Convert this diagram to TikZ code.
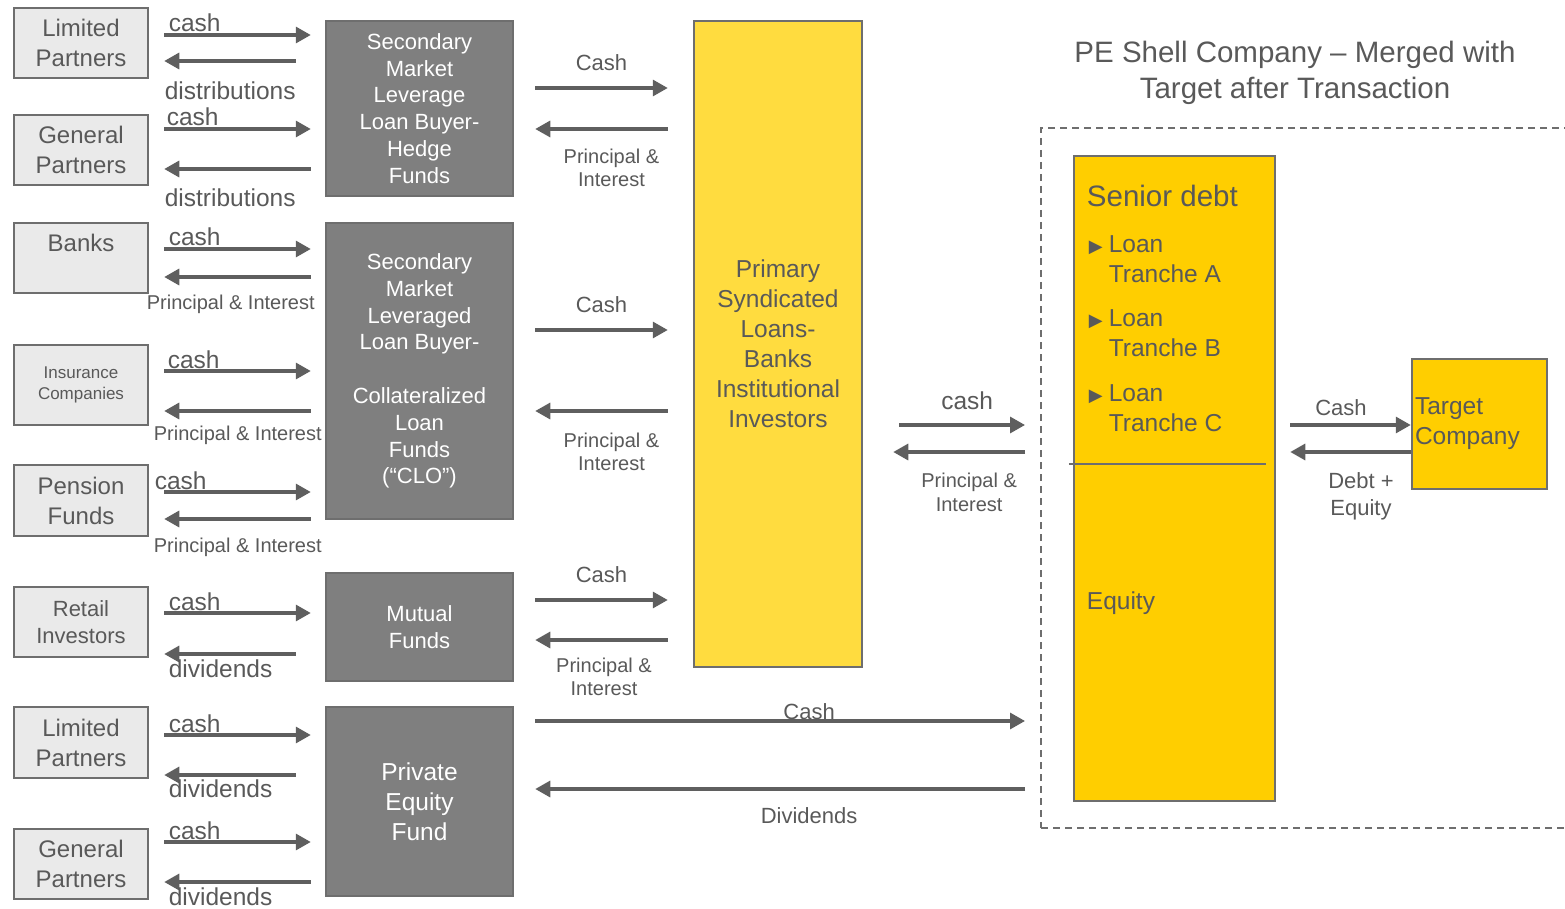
\documentclass[tikz,border=0pt]{standalone}
\usepackage{fontspec}
\setmainfont{Liberation Sans}
\newfontfamily\symbfont{DejaVu Sans}
\usepackage{xcolor}
\usetikzlibrary{arrows.meta, calc}

\definecolor{textgray}{HTML}{595959}
\definecolor{linegray}{HTML}{5F5F5F}
\definecolor{boxgray}{HTML}{6E6E6E}
\definecolor{lightfill}{HTML}{EAEAEA}
\definecolor{darkfill}{HTML}{7F7F7F}
\definecolor{paleyellow}{HTML}{FFDC3F}
\definecolor{gold}{HTML}{FFCE00}

\newcommand{\fsz}[2]{\fontsize{#1}{#2}\selectfont}

\begin{document}
\begin{tikzpicture}[
    x=1pt, y=-1pt,
    lbox/.style={draw=boxgray, line width=2.5pt, fill=lightfill, text=textgray, align=center, minimum width=134pt, minimum height=70pt, inner sep=0pt, font=\fsz{24}{30}},
    dbox/.style={draw=boxgray, line width=2.5pt, fill=darkfill, text=white, align=center, minimum width=187pt, inner sep=0pt, font=\fsz{22}{26.8}},
    ybox/.style={draw=boxgray, line width=2.5pt, text=textgray, inner sep=0pt},
    arrow/.style={draw=linegray, line width=3.2pt, -{Triangle[length=15pt,width=16pt]}},
    lbl/.style={text=textgray, inner sep=0pt, font=\fsz{24.5}{30}},
    mlbl/.style={text=textgray, inner sep=0pt, font=\fsz{22}{27}, align=center},
    slbl/.style={text=textgray, inner sep=0pt, font=\fsz{20}{23}, align=center}
]
\useasboundingbox (0,0) rectangle (1565,909);

% Investors
\node (lp1) [lbox] at (81,43) {Limited\\Partners};
\node (gp1) [lbox] at (81,150) {General\\Partners};
\node (banks) [lbox] at (81,258) {Banks\\\mbox{}};
\node (insur) [lbox, minimum height=80pt, font=\fsz{17}{21}] at (81,385) {Insurance\\Companies};
\node (pension) [lbox, minimum height=71pt] at (81,500.5) {Pension\\Funds};
\node (retail) [lbox, font=\fsz{22}{27}] at (81,622) {Retail\\Investors};
\node (lp2) [lbox, minimum height=71pt] at (81,742.5) {Limited\\Partners};
\node (gp2) [lbox] at (81,864) {General\\Partners};

% Funds
\node (hedge) [dbox, minimum height=175pt] at (419.5,108.5) {Secondary\\Market\\Leverage\\Loan Buyer-\\Hedge\\Funds};
\node (clo) [dbox, minimum height=296pt] at (419.5,371) {Secondary\\Market\\Leveraged\\Loan Buyer-\\[26.8pt]Collateralized\\Loan\\Funds\\(“CLO”)};
\node (mutual) [dbox, minimum height=108pt] at (419.5,627) {Mutual\\Funds};
\node (pefund) [dbox, minimum height=189pt, font=\fsz{24.5}{30}] at (419.5,801.5) {Private\\Equity\\Fund};

% Primary market
\node (primary) [ybox, fill=paleyellow, minimum width=168pt, minimum height=646pt, align=center, font=\fsz{24.5}{30}] at (778,344) {Primary\\Syndicated\\Loans-\\Banks\\Institutional\\Investors};

% PE shell company
\node (title) [text=textgray, align=center, font=\fsz{29.5}{36}] at (1295,73) {PE Shell Company – Merged with\\Target after Transaction};
\node (shellco) [draw=boxgray, line width=2pt, dash pattern=on 7pt off 5pt, minimum width=539pt, minimum height=700pt] at (1310.5,478) {};
\node (shell) [ybox, fill=gold, minimum width=201pt, minimum height=645pt] at (1174.5,478.5) {};
\node (target) [ybox, fill=gold, minimum width=135pt, minimum height=130pt, text width=129pt, align=left, font=\fsz{24.5}{30}] at (1479.5,424) {Target\\Company};

\node (senior) [lbl, font=\fsz{29.5}{36}, anchor=base west] at ($(shell.north west)+(14,52)$) {Senior debt};
\node (tranches) [lbl, anchor=base west] at ($(shell.north west)+(16,98)$) {\begin{tabular}[t]{@{}l@{\hspace{6pt}}l@{}}
{\symbfont\fsz{18}{18}▶} & Loan\\ & Tranche A\\[14pt]
{\symbfont\fsz{18}{18}▶} & Loan\\ & Tranche B\\[15pt]
{\symbfont\fsz{18}{18}▶} & Loan\\ & Tranche C
\end{tabular}};
\node (equity) [lbl, anchor=base west] at ($(shell.north west)+(14,455)$) {Equity};
\draw[draw=boxgray, line width=2pt] ($(shell.north west)+(-4,309)$) -- ($(shell.north east)+(-10,309)$);

% Investors <-> funds
\draw[arrow] ($(lp1.east)+(15,-8)$) -- ($(lp1.east -| hedge.west)+(-14,-8)$) node[lbl, at start, anchor=base west, xshift=3pt, yshift=3pt] {cash};
\draw[arrow] ($(lp1.east -| hedge.west)+(-29,18)$) -- ($(lp1.east)+(15,18)$) node[lbl, anchor=base west, xshift=-1pt, yshift=-39pt] {distributions};
\draw[arrow] ($(gp1.east)+(15,-21)$) -- ($(gp1.east -| hedge.west)+(-14,-21)$) node[lbl, at start, anchor=base west, xshift=1pt, yshift=3pt] {cash};
\draw[arrow] ($(gp1.east -| hedge.west)+(-14,19)$) -- ($(gp1.east)+(15,19)$) node[lbl, anchor=base west, xshift=-1pt, yshift=-38pt] {distributions};

\draw[arrow] ($(banks.east)+(15,-9)$) -- ($(banks.east -| clo.west)+(-14,-9)$) node[lbl, at start, anchor=base west, xshift=3pt, yshift=3pt] {cash};
\draw[arrow] ($(banks.east -| clo.west)+(-14,19)$) -- ($(banks.east)+(15,19)$) node[slbl, anchor=base west, xshift=-19pt, yshift=-32pt] {Principal \& Interest};
\draw[arrow] ($(insur.east)+(15,-14)$) -- ($(insur.east -| clo.west)+(-14,-14)$) node[lbl, at start, anchor=base west, xshift=2pt, yshift=3pt] {cash};
\draw[arrow] ($(insur.east -| clo.west)+(-14,26)$) -- ($(insur.east)+(15,26)$) node[slbl, anchor=base west, xshift=-12pt, yshift=-29pt] {Principal \& Interest};
\draw[arrow] ($(pension.east)+(15,-8.5)$) -- ($(pension.east -| clo.west)+(-14,-8.5)$) node[lbl, at start, anchor=base west, xshift=-11pt, yshift=3pt] {cash};
\draw[arrow] ($(pension.east -| clo.west)+(-14,18.5)$) -- ($(pension.east)+(15,18.5)$) node[slbl, anchor=base west, xshift=-12pt, yshift=-33pt] {Principal \& Interest};

\draw[arrow] ($(retail.east)+(15,-9)$) -- ($(retail.east -| mutual.west)+(-14,-9)$) node[lbl, at start, anchor=base west, xshift=3pt, yshift=3pt] {cash};
\draw[arrow] ($(retail.east -| mutual.west)+(-29,32)$) -- ($(retail.east)+(15,32)$) node[lbl, anchor=base west, xshift=3pt, yshift=-23pt] {dividends};

\draw[arrow] ($(lp2.east)+(15,-7.5)$) -- ($(lp2.east -| pefund.west)+(-14,-7.5)$) node[lbl, at start, anchor=base west, xshift=3pt, yshift=3pt] {cash};
\draw[arrow] ($(lp2.east -| pefund.west)+(-29,32.5)$) -- ($(lp2.east)+(15,32.5)$) node[lbl, anchor=base west, xshift=3pt, yshift=-22pt] {dividends};
\draw[arrow] ($(gp2.east)+(15,-22)$) -- ($(gp2.east -| pefund.west)+(-14,-22)$) node[lbl, at start, anchor=base west, xshift=3pt, yshift=3pt] {cash};
\draw[arrow] ($(gp2.east -| pefund.west)+(-14,18)$) -- ($(gp2.east)+(15,18)$) node[lbl, anchor=base west, xshift=3pt, yshift=-23pt] {dividends};

% Funds <-> primary market
\draw[arrow] ($(hedge.east)+(21,-20.5)$) -- ($(hedge.east -| primary.west)+(-25,-20.5)$) node[mlbl, midway, anchor=base, yshift=17pt] {Cash};
\draw[arrow] ($(hedge.east -| primary.west)+(-25,20.5)$) -- ($(hedge.east)+(21,20.5)$) node[slbl, midway, anchor=north, xshift=10pt, yshift=-18pt] {Principal \&\\Interest};
\draw[arrow] ($(clo.east)+(21,-41)$) -- ($(clo.east -| primary.west)+(-25,-41)$) node[mlbl, midway, anchor=base, yshift=18pt] {Cash};
\draw[arrow] ($(clo.east -| primary.west)+(-25,40)$) -- ($(clo.east)+(21,40)$) node[slbl, midway, anchor=north, xshift=10pt, yshift=-20pt] {Principal \&\\Interest};
\draw[arrow] ($(mutual.east)+(21,-27)$) -- ($(mutual.east -| primary.west)+(-25,-27)$) node[mlbl, midway, anchor=base, yshift=18pt] {Cash};
\draw[arrow] ($(mutual.east -| primary.west)+(-25,13)$) -- ($(mutual.east)+(21,13)$) node[slbl, midway, anchor=north, xshift=2.5pt, yshift=-16pt] {Principal \&\\Interest};

% PE fund <-> shell company
\draw[arrow] ($(pefund.east)+(21,-80.5)$) -- ($(pefund.east -| shellco.west)+(-15,-80.5)$) node[mlbl, midway, anchor=base, xshift=29pt, yshift=2pt] {Cash};
\draw[arrow] ($(pefund.east -| shellco.west)+(-15,-12.5)$) -- ($(pefund.east)+(21,-12.5)$) node[mlbl, midway, anchor=base, xshift=29pt, yshift=-34pt] {Dividends};

% Primary market <-> shell company
\draw[arrow] ($(primary.east)+(36,81)$) -- ($(primary.east -| shellco.west)+(-15,81)$) node[lbl, midway, anchor=base, xshift=5pt, yshift=16pt] {cash};
\draw[arrow] ($(primary.east -| shellco.west)+(-15,108)$) -- ($(primary.east)+(30,108)$) node[slbl, font=\fsz{20}{24}, midway, anchor=north, xshift=10pt, yshift=-19pt] {Principal \&\\Interest};

% Shell <-> target
\draw[arrow] ($(shell.east |- target.west)+(14,1)$) -- ($(target.west)+(0,1)$) node[mlbl, midway, anchor=base, xshift=-9.5pt, yshift=10pt] {Cash};
\draw[arrow] ($(target.west)+(0,28)$) -- ($(shell.east |- target.west)+(14,28)$) node[mlbl, midway, anchor=north, xshift=10.5pt, yshift=-19pt] {Debt +\\Equity};

\end{tikzpicture}
\end{document}
